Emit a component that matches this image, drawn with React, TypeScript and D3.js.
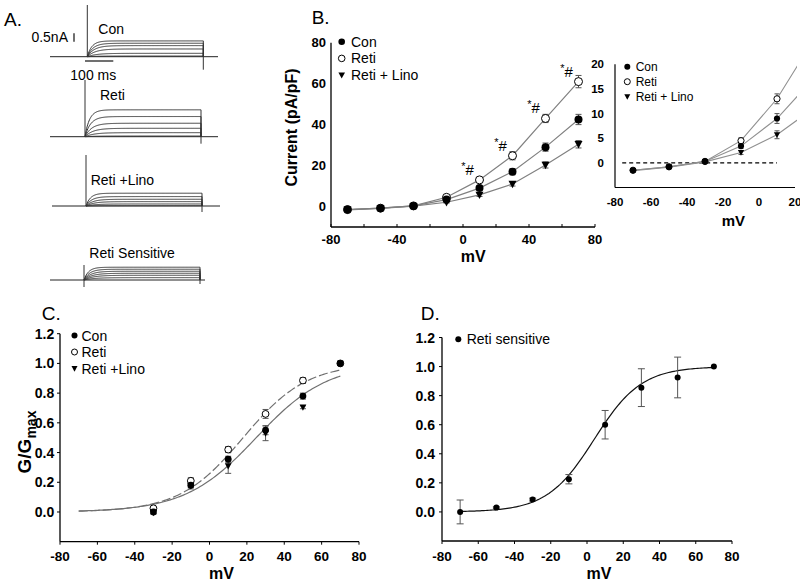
import React from 'react';
import * as d3 from 'd3';

const FONT = "'Liberation Sans', Arial, Helvetica, sans-serif";

// ---------- Panel A : current traces (steady-state amplitudes, nA) ----------
const traceLabels = ['Con', 'Reti', 'Reti +Lino', 'Reti Sensitive'];
const conTraceAmps = [0.94, 0.8, 0.66, 0.46, 0.2, 0.04];
const retiTraceAmps = [1.6, 1.2, 0.8, 0.5, 0.24, 0.04];
const linoTraceAmps = [0.76, 0.56, 0.4, 0.26, 0.12, 0.02];
const sensTraceAmps = [0.76, 0.64, 0.52, 0.4, 0.28, 0.14];
const pulseMs = 410;
const tauMs = 16;

// ---------- Panel B : I-V (pA/pF) ----------
const mvB = [-70, -50, -30, -10, 10, 30, 50, 70];
const conB = [-1.5, -0.8, 0.3, 3.4, 9.0, 17.0, 29.0, 42.5];
const conErrB = [0.3, 0.3, 0.3, 0.5, 1.0, 1.5, 2.0, 2.5];
const retiB = [-1.5, -0.8, 0.3, 4.5, 13.0, 24.8, 43.0, 61.0];
const retiErrB = [0.3, 0.3, 0.3, 0.6, 1.0, 2.0, 2.0, 3.0];
const linoB = [-1.6, -0.9, 0.2, 2.1, 5.7, 11.0, 20.3, 30.4];
const linoErrB = [0.3, 0.3, 0.3, 0.4, 0.8, 1.0, 1.5, 1.8];
const sigMvB = [10, 30, 50, 70];
const xTicksB = [-80, -40, 0, 40, 80];
const xMinorB = [-60, -20, 20, 60];
const yTicksB = [0, 20, 40, 60, 80];
const xTicksInset = [-80, -60, -40, -20, 0, 20];
const yTicksInset = [0, 5, 10, 15, 20];
const seriesNamesB = ['Con', 'Reti', 'Reti + Lino'];

// ---------- Panel C : G/Gmax ----------
const mvC = [-30, -10, 10, 30, 50, 70];
const conC = [0.0, 0.18, 0.355, 0.55, 0.78, 1.0];
const conErrC = [0.01, 0.015, 0.02, 0.03, 0.02, 0];
const retiC = [0.025, 0.21, 0.42, 0.66, 0.885, 1.0];
const retiErrC = [0.01, 0.02, 0.02, 0.03, 0.02, 0];
const linoC = [-0.005, 0.175, 0.31, 0.53, 0.705, 1.0];
const linoErrC = [0.01, 0.02, 0.05, 0.05, 0.01, 0];
const conFitC = { half: 25, slope: 19 };
const retiFitC = { half: 18, slope: 17 };
const seriesNamesC = ['Con', 'Reti', 'Reti +Lino'];

// ---------- Panel D : Reti-sensitive ----------
const mvD = [-70, -50, -30, -10, 10, 30, 50, 70];
const sensD = [0.0, 0.03, 0.085, 0.225, 0.6, 0.855, 0.925, 1.0];
const sensErrD = [0.082, 0.005, 0.01, 0.032, 0.098, 0.13, 0.14, 0];
const sensFitD = { half: 4, slope: 13 };

const xTicksCD = [-80, -60, -40, -20, 0, 20, 40, 60, 80];
const yTicksCD = [0, 0.2, 0.4, 0.6, 0.8, 1.0, 1.2];

const boltz = (v: number, p: { half: number; slope: number }) =>
  1 / (1 + Math.exp((p.half - v) / p.slope));

type Kind = 'filled' | 'open' | 'tri';

function Marker({ kind, x, y, r }: { kind: Kind; x: number; y: number; r: number }) {
  if (kind === 'filled') return <circle cx={x} cy={y} r={r} fill="#000" />;
  if (kind === 'open') return <circle cx={x} cy={y} r={r} fill="#fff" stroke="#000" strokeWidth={1} />;
  const p = `M${x - r},${y - r * 0.8}L${x + r},${y - r * 0.8}L${x},${y + r * 1.05}Z`;
  return <path d={p} fill="#000" />;
}

function ErrBar({ x, y1, y2, cap }: { x: number; y1: number; y2: number; cap: number }) {
  return (
    <g stroke="#555" strokeWidth={1}>
      <line x1={x} x2={x} y1={y1} y2={y2} />
      <line x1={x - cap} x2={x + cap} y1={y1} y2={y1} />
      <line x1={x - cap} x2={x + cap} y1={y2} y2={y2} />
    </g>
  );
}

function PanelA() {
  const sets = [conTraceAmps, retiTraceAmps, linoTraceAmps, sensTraceAmps];
  const layout = [
    { x0: 87.3, base: 56.7, artTop: 5, artBot: 56.7, endTick: 13, from: 50, to: 218, lx: 98.3, ly: 29.3 },
    { x0: 85, base: 136.7, artTop: 80, artBot: 136.7, endTick: 7, from: 50, to: 218, lx: 100, ly: 95 },
    { x0: 86, base: 206, artTop: 155, artBot: 206, endTick: 6, from: 52, to: 220, lx: 90.7, ly: 180 },
    { x0: 84, base: 280, artTop: 265, artBot: 287, endTick: 4, from: 50, to: 205, lx: 89.3, ly: 253.3 },
  ];
  const pxPerNa = 16.8;
  const times = d3.range(0, pulseMs + 0.1, 2);
  return (
    <g>
      <text x={4} y={19} fontSize={19} dominantBaseline="central">A.</text>
      {layout.map((L, i) => {
        const xs = d3.scaleLinear().domain([0, pulseMs]).range([L.x0, L.x0 + 116]);
        const ys = d3.scaleLinear().domain([0, 1]).range([L.base, L.base - pxPerNa]);
        return (
          <g key={i}>
            <line x1={L.from} x2={L.to} y1={L.base} y2={L.base} stroke="#222" strokeWidth={1} />
            {sets[i].map((a, j) => {
              const tau = tauMs * (1 + j * 0.25);
              const gen = d3
                .line<number>()
                .x((t) => xs(t))
                .y((t) => ys(a * (1 - Math.exp(-t / tau))));
              const d = gen(times) + `L${xs(pulseMs)},${L.base}`;
              return <path key={j} d={d} fill="none" stroke="#333" strokeWidth={1} />;
            })}
            <line x1={L.x0} x2={L.x0} y1={L.artTop} y2={L.artBot} stroke="#333" strokeWidth={1} />
            <line x1={xs(pulseMs)} x2={xs(pulseMs)} y1={L.base} y2={L.base + L.endTick} stroke="#333" strokeWidth={1} />
            <text x={L.lx} y={L.ly} fontSize={14} dominantBaseline="central">{traceLabels[i]}</text>
          </g>
        );
      })}
      <line x1={74} x2={74} y1={33.3} y2={33.3 + pxPerNa * 0.5} stroke="#222" strokeWidth={1.3} />
      <text x={68} y={37.3} fontSize={14} textAnchor="end" dominantBaseline="central">0.5nA</text>
      <line x1={85} x2={85 + (116 / pulseMs) * 100} y1={61} y2={61} stroke="#222" strokeWidth={1.3} />
      <text x={93.3} y={75} fontSize={14} textAnchor="middle" dominantBaseline="central">100 ms</text>
    </g>
  );
}

function PanelB() {
  const x = d3.scaleLinear().domain([-80, 80]).range([331, 595]);
  const y = d3.scaleLinear().domain([-10, 80]).range([227, 42.7]);
  const series = [
    { v: retiB, e: retiErrB, k: 'open' as Kind },
    { v: linoB, e: linoErrB, k: 'tri' as Kind },
    { v: conB, e: conErrB, k: 'filled' as Kind },
  ];
  const line = d3
    .line<[number, number]>()
    .x((d) => x(d[0]))
    .y((d) => y(d[1]));
  return (
    <g>
      <text x={311.7} y={17.8} fontSize={19} dominantBaseline="central">B.</text>
      {series.map((s, i) => (
        <path key={i} d={line(mvB.map((m, j) => [m, s.v[j]]))!} fill="none" stroke="#808080" strokeWidth={1.2} />
      ))}
      {series.map((s, i) =>
        mvB.map((m, j) => (
          <ErrBar key={`${i}-${j}`} x={x(m)} y1={y(s.v[j] - s.e[j])} y2={y(s.v[j] + s.e[j])} cap={3} />
        ))
      )}
      {series.map((s, i) => mvB.map((m, j) => <Marker key={`${i}-${j}`} kind={s.k} x={x(m)} y={y(s.v[j])} r={4} />))}
      {sigMvB.map((m) => {
        const j = mvB.indexOf(m);
        return (
          <text key={m} x={x(m) - 12} y={y(retiB[j]) - 11} fontSize={15} textAnchor="middle" dominantBaseline="central">
            <tspan fontSize={11} dy={-3}>*</tspan>
            <tspan dy={3}>#</tspan>
          </text>
        );
      })}
      <line x1={x(-80)} x2={x(-80)} y1={y(80)} y2={y(-10)} stroke="#000" strokeWidth={1.3} />
      <line x1={x(-80)} x2={x(80)} y1={y(-10)} y2={y(-10)} stroke="#000" strokeWidth={1.3} />
      {xMinorB.concat(xTicksB).map((t) => (
        <line key={t} x1={x(t)} x2={x(t)} y1={y(-10)} y2={y(-10) - 3} stroke="#000" strokeWidth={1} />
      ))}
      {xTicksB.map((t) => (
        <text key={t} x={x(t)} y={239.5} fontSize={13} fontWeight="bold" textAnchor="middle" dominantBaseline="central">{t}</text>
      ))}
      {yTicksB.map((t) => (
        <text key={t} x={326} y={y(t)} fontSize={13} fontWeight="bold" textAnchor="end" dominantBaseline="central">{t}</text>
      ))}
      <text x={473.3} y={256} fontSize={16} fontWeight="bold" textAnchor="middle" dominantBaseline="central">mV</text>
      <text transform="translate(291.7,127.5) rotate(-90)" fontSize={16} fontWeight="bold" textAnchor="middle" dominantBaseline="central">Current (pA/pF)</text>
      {(['filled', 'open', 'tri'] as Kind[]).map((k, i) => (
        <g key={k}>
          <Marker kind={k} x={341.7} y={41.7 + i * 16.7} r={3.3} />
          <text x={351} y={41.7 + i * 16.7} fontSize={14} dominantBaseline="central">{seriesNamesB[i]}</text>
        </g>
      ))}
    </g>
  );
}

function PanelBInset() {
  const x = d3.scaleLinear().domain([-80, 20]).range([615, 795]);
  const y = d3.scaleLinear().domain([-5, 20]).range([187.5, 64.3]);
  const series = [
    { v: retiB, e: retiErrB, k: 'open' as Kind },
    { v: linoB, e: linoErrB, k: 'tri' as Kind },
    { v: conB, e: conErrB, k: 'filled' as Kind },
  ];
  const line = d3
    .line<[number, number]>()
    .x((d) => x(d[0]))
    .y((d) => y(d[1]));
  const vis = mvB.map((m, j) => j).filter((j) => mvB[j] <= 20);
  return (
    <g>
      <defs>
        <clipPath id="insetClip">
          <rect x={615} y={50} width={182} height={140} />
        </clipPath>
      </defs>
      <line x1={x(-76)} x2={x(10)} y1={y(0)} y2={y(0)} stroke="#000" strokeWidth={1.2} strokeDasharray="4,3" />
      <g clipPath="url(#insetClip)">
        {series.map((s, i) => (
          <path key={i} d={line(mvB.map((m, j) => [m, s.v[j]]))!} fill="none" stroke="#909090" strokeWidth={1.1} />
        ))}
      </g>
      {series.map((s, i) =>
        vis.map((j) => (
          <ErrBar key={`${i}-${j}`} x={x(mvB[j])} y1={y(s.v[j] - s.e[j])} y2={y(s.v[j] + s.e[j])} cap={2.5} />
        ))
      )}
      {series.map((s, i) => vis.map((j) => <Marker key={`${i}-${j}`} kind={s.k} x={x(mvB[j])} y={y(s.v[j])} r={3.1} />))}
      <line x1={x(-80)} x2={x(-80)} y1={y(20)} y2={y(-5)} stroke="#000" strokeWidth={1.2} />
      <line x1={x(-80)} x2={x(20)} y1={y(-5)} y2={y(-5)} stroke="#000" strokeWidth={1.2} />
      {xTicksInset.map((t) => (
        <text key={t} x={x(t)} y={202.3} fontSize={11.5} fontWeight="bold" textAnchor="middle" dominantBaseline="central">{t}</text>
      ))}
      {yTicksInset.map((t) => (
        <text key={t} x={604} y={y(t)} fontSize={11.5} fontWeight="bold" textAnchor="end" dominantBaseline="central">{t}</text>
      ))}
      <text x={733.3} y={220} fontSize={15} fontWeight="bold" textAnchor="middle" dominantBaseline="central">mV</text>
      {(['filled', 'open', 'tri'] as Kind[]).map((k, i) => (
        <g key={k}>
          <Marker kind={k} x={627.3} y={66.7 + i * 15} r={3} />
          <text x={635.7} y={66.7 + i * 15} fontSize={12} dominantBaseline="central">{seriesNamesB[i]}</text>
        </g>
      ))}
    </g>
  );
}

function AxesCD({ x, y, labelRight }: { x: d3.ScaleLinear<number, number>; y: d3.ScaleLinear<number, number>; labelRight: number }) {
  const fmt = d3.format('.1f');
  return (
    <g>
      <line x1={x(-80)} x2={x(-80)} y1={y(1.2)} y2={y(-0.2)} stroke="#000" strokeWidth={1.3} />
      <line x1={x(-80)} x2={x(80)} y1={y(-0.2)} y2={y(-0.2)} stroke="#000" strokeWidth={1.3} />
      {xTicksCD.map((t) => (
        <g key={t}>
          <line x1={x(t)} x2={x(t)} y1={y(-0.2)} y2={y(-0.2) + 3} stroke="#000" strokeWidth={1} />
          <text x={x(t)} y={556.5} fontSize={13.5} fontWeight="bold" textAnchor="middle" dominantBaseline="central">{t}</text>
        </g>
      ))}
      {yTicksCD.map((t) => (
        <g key={t}>
          <line x1={x(-80)} x2={x(-80) - 3} y1={y(t)} y2={y(t)} stroke="#000" strokeWidth={1} />
          <text x={labelRight} y={y(t)} fontSize={14} fontWeight="bold" textAnchor="end" dominantBaseline="central">{fmt(t)}</text>
        </g>
      ))}
      <text x={(x(-80) + x(80)) / 2 + 12} y={573} fontSize={16} fontWeight="bold" textAnchor="middle" dominantBaseline="central">mV</text>
    </g>
  );
}

function PanelC() {
  const x = d3.scaleLinear().domain([-80, 80]).range([60, 359]);
  const y = d3.scaleLinear().domain([-0.2, 1.2]).range([541.7, 333.7]);
  const vs = d3.range(-70, 70.01, 1);
  const curve = (p: { half: number; slope: number }) =>
    d3
      .line<number>()
      .x((v) => x(v))
      .y((v) => y(boltz(v, p)))(vs)!;
  const series = [
    { v: retiC, e: retiErrC, k: 'open' as Kind },
    { v: linoC, e: linoErrC, k: 'tri' as Kind },
    { v: conC, e: conErrC, k: 'filled' as Kind },
  ];
  return (
    <g>
      <text x={41.7} y={313.3} fontSize={19} dominantBaseline="central">C.</text>
      <path d={curve(conFitC)} fill="none" stroke="#707070" strokeWidth={1.2} />
      <path d={curve(retiFitC)} fill="none" stroke="#707070" strokeWidth={1.2} strokeDasharray="9,3" />
      {series.map((s, i) =>
        mvC.map((m, j) =>
          s.e[j] > 0 ? <ErrBar key={`${i}-${j}`} x={x(m)} y1={y(s.v[j] - s.e[j])} y2={y(s.v[j] + s.e[j])} cap={3} /> : null
        )
      )}
      {series.map((s, i) => mvC.map((m, j) => <Marker key={`${i}-${j}`} kind={s.k} x={x(m)} y={y(s.v[j])} r={3.4} />))}
      <AxesCD x={x} y={y} labelRight={54.3} />
      <text transform="translate(31,442) rotate(-90)" fontSize={19} fontWeight="bold" textAnchor="middle">
        G/G<tspan fontSize={14} dy={5}>max</tspan>
      </text>
      {(['filled', 'open', 'tri'] as Kind[]).map((k, i) => (
        <g key={k}>
          <Marker kind={k} x={74.5} y={335.5 + i * 16.5} r={3} />
          <text x={81.5} y={335.5 + i * 16.5} fontSize={14} dominantBaseline="central">{seriesNamesC[i]}</text>
        </g>
      ))}
    </g>
  );
}

function PanelD() {
  const x = d3.scaleLinear().domain([-80, 80]).range([442, 732]);
  const y = d3.scaleLinear().domain([-0.2, 1.2]).range([541, 337.5]);
  const vs = d3.range(-70, 70.01, 1);
  const d = d3
    .line<number>()
    .x((v) => x(v))
    .y((v) => y(boltz(v, sensFitD)))(vs)!;
  return (
    <g>
      <text x={420.7} y={313} fontSize={19} dominantBaseline="central">D.</text>
      <path d={d} fill="none" stroke="#111" strokeWidth={1.2} />
      {mvD.map((m, j) =>
        sensErrD[j] > 0 ? <ErrBar key={j} x={x(m)} y1={y(sensD[j] - sensErrD[j])} y2={y(sensD[j] + sensErrD[j])} cap={3.5} /> : null
      )}
      {mvD.map((m, j) => (
        <Marker key={j} kind="filled" x={x(m)} y={y(sensD[j])} r={3} />
      ))}
      <AxesCD x={x} y={y} labelRight={435} />
      <Marker kind="filled" x={458.3} y={339.3} r={3} />
      <text x={466.7} y={339.3} fontSize={14} dominantBaseline="central">Reti sensitive</text>
    </g>
  );
}

export default function App() {
  return (
    <svg
      width={800}
      height={581}
      viewBox="0 0 800 581"
      style={{ position: 'absolute', left: 0, top: 0, background: '#fff' }}
      fontFamily={FONT}
    >
      <rect width={800} height={581} fill="#fff" />
      <PanelA />
      <PanelB />
      <PanelBInset />
      <PanelC />
      <PanelD />
    </svg>
  );
}
